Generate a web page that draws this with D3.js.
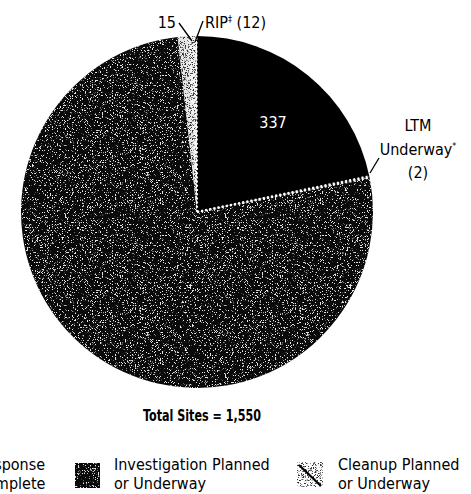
<!DOCTYPE html>
<html><head><meta charset="utf-8">
<script src="https://cdn.jsdelivr.net/npm/d3@7"></script>
<style>
html,body{margin:0;padding:0;background:#fff;}
svg{display:block;}
text{font-family:"Liberation Sans Narrow","DejaVu Sans Condensed","Roboto Condensed",sans-serif;font-stretch:condensed;}
</style></head><body>
<svg id="c" width="471" height="494"></svg>
<script>
// Data
const categories = ["Response Complete", "LTM Underway", "Investigation Planned or Underway", "Cleanup Planned or Underway", "RIP"];
const values = [337, 2, 1184, 15, 12];
const totalLabel = "Total Sites = 1,550";
const legendItems = ["Response Complete", "Investigation Planned or Underway", "Cleanup Planned or Underway"];

const svg = d3.select("#c");
const defs = svg.append("defs");

// dark speckle filter: sparse light pixels
const f1 = defs.append("filter").attr("id","speckDark").attr("x",0).attr("y",0).attr("width",1).attr("height",1)
  .attr("color-interpolation-filters","sRGB");
f1.append("feTurbulence").attr("type","fractalNoise").attr("baseFrequency",1.6).attr("numOctaves",1).attr("seed",3).attr("result","n");
f1.append("feColorMatrix").attr("in","n").attr("type","matrix")
  .attr("values","0 0 0 0 0.9  0 0 0 0 0.9  0 0 0 0 0.9  14 0 0 0 -8.3").attr("result","dots");
f1.append("feComposite").attr("in","dots").attr("in2","SourceGraphic").attr("operator","in");

// light speckle filter: dark pixels on light
const f2 = defs.append("filter").attr("id","speckLight").attr("x",0).attr("y",0).attr("width",1).attr("height",1)
  .attr("color-interpolation-filters","sRGB");
f2.append("feTurbulence").attr("type","fractalNoise").attr("baseFrequency",1.4).attr("numOctaves",1).attr("seed",7).attr("result","n");
f2.append("feColorMatrix").attr("in","n").attr("type","matrix")
  .attr("values","0 0 0 0 0.2  0 0 0 0 0.2  0 0 0 0 0.2  10 0 0 0 -5.3").attr("result","dots");
f2.append("feComposite").attr("in","dots").attr("in2","SourceGraphic").attr("operator","in");

const cx = 197, cy = 212, R = 176;
const g = svg.append("g").attr("transform",`translate(${cx},${cy})`);

const pie = d3.pie().sort(null).value(d=>d).startAngle(0).endAngle(2*Math.PI);
const arcs = pie(values);
const arc = d3.arc().innerRadius(0).outerRadius(R);

const baseFill = ["#000", "#000", "#0a0a0a", "#e8e8e8", "#f4f4f4"];
g.selectAll("path.base").data(arcs).join("path").attr("class","base")
  .attr("d",arc).attr("fill",(d,i)=>baseFill[i]);

// texture overlays
g.append("path").attr("d",arc(arcs[2])).attr("fill","#fff").attr("filter","url(#speckDark)");
[3,4].forEach(i=>{
  g.append("path").attr("d",arc(arcs[i])).attr("fill","#000").attr("filter","url(#speckLight)");
});

// dotted white separators
function radial(a){ return [[0,0],[Math.sin(a)*R, -Math.cos(a)*R]]; }
const line = d3.line();
[arcs[1].startAngle, arcs[1].endAngle, arcs[0].startAngle].forEach((a,k)=>{
  g.append("path").attr("d",line(radial(a+(k==2?-0.004:0))))
    .attr("stroke","#fff").attr("stroke-width",2.2).attr("stroke-dasharray","2,2.2").attr("fill","none");
});

// labels
const fs = 16;
g.append("text").attr("x",76).attr("y",-84).attr("text-anchor","middle").attr("fill","#fff")
  .attr("font-size",fs).text(values[0]);

svg.append("text").attr("x",176).attr("y",28).attr("text-anchor","end").attr("font-size",fs).text(values[3]);
svg.append("line").attr("x1",179).attr("y1",23).attr("x2",192).attr("y2",41).attr("stroke","#000").attr("stroke-width",1.3);

const rip = svg.append("text").attr("x",205).attr("y",28).attr("font-size",fs);
rip.append("tspan").text("RIP");
rip.append("tspan").attr("font-size",9).attr("dy",-6).text("\u2021");
rip.append("tspan").attr("dy",6).text(" (" + values[4] + ")");
svg.append("line").attr("x1",203).attr("y1",21).attr("x2",195).attr("y2",42).attr("stroke","#000").attr("stroke-width",1.3);

const ltm = svg.append("text").attr("font-size",fs).attr("text-anchor","middle");
ltm.append("tspan").attr("x",418).attr("y",131).text("LTM");
const uw = ltm.append("tspan").attr("x",418).attr("y",155);
uw.append("tspan").text("Underway");
uw.append("tspan").attr("font-size",9).attr("dy",-6).text("*");
ltm.append("tspan").attr("x",418).attr("y",178).text("(" + values[1] + ")");
svg.append("line").attr("x1",379).attr("y1",158).attr("x2",370).attr("y2",173).attr("stroke","#000").attr("stroke-width",1.3);

svg.append("text").attr("x",202).attr("y",421).attr("text-anchor","middle")
  .attr("font-size",15).attr("font-weight","bold")
  .attr("textLength",118).attr("lengthAdjust","spacingAndGlyphs").text(totalLabel);

// legend
const lg = svg.append("g");
function twoLine(x, label){
  const idx = label.indexOf(" or ");
  let l1, l2;
  if (idx>0){ l1 = label.slice(0,idx); l2 = label.slice(idx+1); }
  else { const p = label.split(" "); l1 = p[0]; l2 = p.slice(1).join(" "); }
  const t = lg.append("text").attr("font-size",fs);
  t.append("tspan").attr("x",x).attr("y",470).text(l1);
  t.append("tspan").attr("x",x).attr("y",489).text(l2);
}
// item 0 (partially off-canvas, as in the reference crop)
lg.append("rect").attr("x",-66).attr("y",463).attr("width",25).attr("height",25).attr("fill","#000");
twoLine(-24, legendItems[0]);
// item 1
lg.append("rect").attr("x",75).attr("y",463).attr("width",25).attr("height",25).attr("fill","#0a0a0a");
lg.append("rect").attr("x",75).attr("y",463).attr("width",25).attr("height",25).attr("fill","#fff").attr("filter","url(#speckDark)");
twoLine(114, legendItems[1]);
// item 2
lg.append("rect").attr("x",297).attr("y",462).attr("width",26).attr("height",25).attr("fill","#fff");
lg.append("rect").attr("x",297).attr("y",462).attr("width",26).attr("height",25).attr("fill","#000").attr("filter","url(#speckLight)");
lg.append("line").attr("x1",299).attr("y1",465).attr("x2",321).attr("y2",486).attr("stroke","#000").attr("stroke-width",2.2);
twoLine(338, legendItems[2]);
</script>
</body></html>
